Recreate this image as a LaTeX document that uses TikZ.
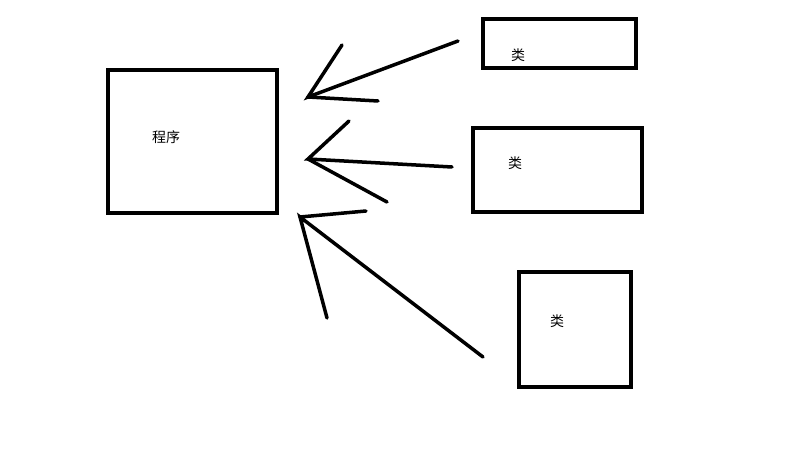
\documentclass[tikz,border=0pt]{standalone}
\usepackage{fontspec}
\newfontfamily\cjk{Noto Sans CJK SC}
\usetikzlibrary{positioning}

\begin{document}
\begin{tikzpicture}[x=1pt,y=-1pt,line width=3.5pt]
\tikzstyle{box}=[draw,line join=miter]
\tikzstyle{label}=[font=\cjk\fontsize{14}{16}\selectfont,inner sep=0pt]
\tikzstyle{stroke}=[line cap=round]
\useasboundingbox (0,0) rectangle (789,460);

% boxes
\draw[box] (108,70) rectangle (277,213);
\draw[box] (483,19) rectangle (636,68);
\draw[box] (473,128) rectangle (642,212);
\draw[box] (519,272) rectangle (631,387);
\node[label] (P) at (166,137) {程序};
\node[label] (K1) at (518,55) {类};
\node[label] (K2) at (515,163) {类};
\node[label] (K3) at (557,321) {类};

% arrow points
\coordinate (T1) at (308,97);
\coordinate (S1) at (458,41);
\coordinate (T2) at (308,159);
\coordinate (S2) at (452,167);
\coordinate (T3) at (300,217);
\coordinate (S3) at (483,357);

\draw[stroke] (S1) -- (T1) -- (342,45);
\draw[stroke] (T1) -- (378,101);
\draw[stroke] (S2) -- (T2) -- (349,121);
\draw[stroke] (T2) -- (387,202);
\draw[stroke] (S3) -- (T3) -- (327,318);
\draw[stroke] (T3) -- (366,211);
\end{tikzpicture}
\end{document}
